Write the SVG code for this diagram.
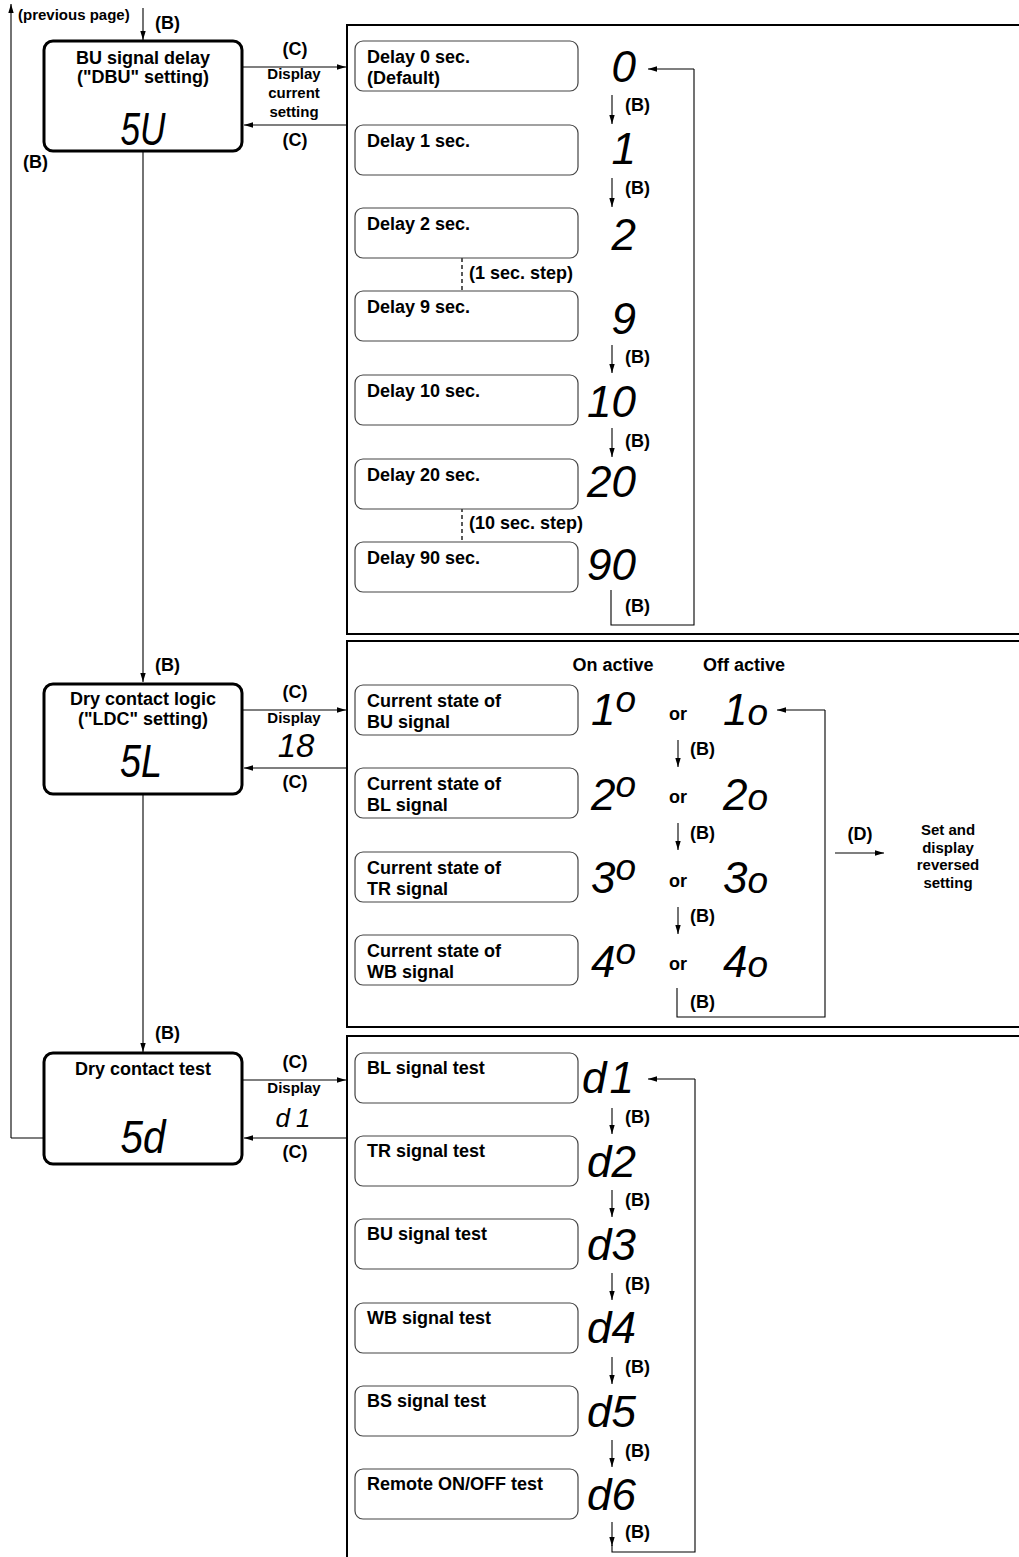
<svg xmlns="http://www.w3.org/2000/svg" width="1019" height="1557" viewBox="0 0 1019 1557">
<defs>
<style>
.t{font-family:"Liberation Sans",Arial,sans-serif;font-weight:bold;font-size:18px;fill:#000}
.s{font-family:"Liberation Sans",Arial,sans-serif;font-weight:bold;font-size:15px;fill:#000}
.c{text-anchor:middle}
.seg{font-family:"Liberation Sans",Arial,sans-serif;font-style:italic;font-size:44px;fill:#000}
.main{fill:#fff;stroke:#000;stroke-width:3}
.sub{fill:#fff;stroke:#444;stroke-width:1.2}
.panel{fill:none;stroke:#000;stroke-width:2}
.ln{fill:none;stroke:#000;stroke-width:1.1}
.ar{fill:none;stroke:#000;stroke-width:1.1;marker-end:url(#ah)}
.dash{fill:none;stroke:#000;stroke-width:1.3;stroke-dasharray:4,3}
</style>
<marker id="ah" markerWidth="10" markerHeight="8" refX="9" refY="4" orient="auto" markerUnits="userSpaceOnUse"><path d="M0,1.3 L9,4 L0,6.7 Z" fill="#000"/></marker>
</defs>
<rect width="1019" height="1557" fill="#fff"/>

<!-- panels -->
<g id="panel1"><rect class="panel" x="347" y="25" width="700" height="609"/></g>
<g id="panel2"><rect class="panel" x="347" y="641" width="700" height="386"/></g>
<g id="panel3"><rect class="panel" x="347" y="1036" width="700" height="560"/></g>

<!-- connectors -->
<g id="connectors">
<path class="ar" d="M143,8 V40"/>
<path class="ln" d="M44,1138 H11"/>
<path class="ar" d="M11,1138 V4"/>
<path class="ar" d="M143,151 V682"/>
<path class="ar" d="M143,795 V1052"/>
<path class="ar" d="M243,67 H346"/>
<path class="ar" d="M347,125 H244"/>
<path class="ar" d="M243,710 H346"/>
<path class="ar" d="M347,768 H244"/>
<path class="ar" d="M243,1080 H346"/>
<path class="ar" d="M347,1138 H244"/>
<!-- panel 1 -->
<path class="ar" d="M612,95 V124"/>
<path class="ar" d="M612,178 V207"/>
<path class="ar" d="M612,345 V373"/>
<path class="ar" d="M612,428 V457"/>
<path class="ln" d="M611,590 V625 H694 V69"/>
<path class="ar" d="M694,69 H648"/>
<path class="dash" d="M462,258 V291"/>
<path class="dash" d="M462,508 V542"/>
<!-- panel 2 -->
<path class="ar" d="M678,740 V767"/>
<path class="ar" d="M678,823 V850"/>
<path class="ar" d="M678,907 V934"/>
<path class="ln" d="M677,988 V1017 H825 V710"/>
<path class="ar" d="M825,710 H777"/>
<path class="ar" d="M835,853 H884"/>
<!-- panel 3 -->
<path class="ar" d="M612,1108 V1134"/>
<path class="ar" d="M612,1190 V1217"/>
<path class="ar" d="M612,1273 V1300"/>
<path class="ar" d="M612,1357 V1384"/>
<path class="ar" d="M612,1440 V1467"/>
<path class="ar" d="M612,1522 V1546"/>
<path class="ln" d="M612,1545 V1552 H695 V1079"/>
<path class="ar" d="M695,1079 H648"/>
</g>

<!-- connector labels -->
<g id="labels">
<text class="s" x="18" y="20">(previous page)</text>
<text class="t" x="155" y="29">(B)</text>
<text class="t" x="23" y="168">(B)</text>
<text class="t c" x="295" y="55">(C)</text>
<text class="s c" x="294" y="79">Display</text>
<text class="s c" x="294" y="98">current</text>
<text class="s c" x="294" y="117">setting</text>
<text class="t c" x="295" y="146">(C)</text>
<text class="t" x="155" y="671">(B)</text>
<text class="t c" x="295" y="698">(C)</text>
<text class="s c" x="294" y="723">Display</text>
<text class="seg c" x="296" y="757" style="font-size:33px">18</text>
<text class="t c" x="295" y="788">(C)</text>
<text class="t" x="155" y="1039">(B)</text>
<text class="t c" x="295" y="1068">(C)</text>
<text class="s c" x="294" y="1093">Display</text>
<text class="seg c" x="296" y="1127" style="font-size:26px;letter-spacing:6px">d1</text>
<text class="t c" x="295" y="1158">(C)</text>
<!-- panel 1 -->
<text class="t" x="625" y="111">(B)</text>
<text class="t" x="625" y="194">(B)</text>
<text class="t" x="625" y="363">(B)</text>
<text class="t" x="625" y="447">(B)</text>
<text class="t" x="625" y="612">(B)</text>
<text class="t" x="469" y="279">(1 sec. step)</text>
<text class="t" x="469" y="529">(10 sec. step)</text>
<!-- panel 2 -->
<text class="t c" x="613" y="671">On active</text>
<text class="t c" x="744" y="671">Off active</text>
<text class="t" x="690" y="755">(B)</text>
<text class="t" x="690" y="839">(B)</text>
<text class="t" x="690" y="922">(B)</text>
<text class="t" x="690" y="1008">(B)</text>
<text class="t c" x="860" y="840">(D)</text>
<text class="s c" x="948" y="835">Set and</text>
<text class="s c" x="948" y="853">display</text>
<text class="s c" x="948" y="870">reversed</text>
<text class="s c" x="948" y="888">setting</text>
<!-- panel 3 -->
<text class="t" x="625" y="1123">(B)</text>
<text class="t" x="625" y="1206">(B)</text>
<text class="t" x="625" y="1290">(B)</text>
<text class="t" x="625" y="1373">(B)</text>
<text class="t" x="625" y="1457">(B)</text>
<text class="t" x="625" y="1538">(B)</text>
</g>

<!-- main nodes -->
<g id="node-bu-delay">
<rect class="main" x="44" y="41" width="198" height="110" rx="9"/>
<text class="t c" x="143" y="64">BU signal delay</text>
<text class="t c" x="143" y="83">("DBU" setting)</text>
<text class="seg c" x="143" y="145" style="font-size:46px" textLength="45" lengthAdjust="spacingAndGlyphs">5U</text>
</g>
<g id="node-dry-logic">
<rect class="main" x="44" y="684" width="198" height="110" rx="9"/>
<text class="t c" x="143" y="705">Dry contact logic</text>
<text class="t c" x="143" y="725">("LDC" setting)</text>
<text class="seg c" x="141" y="777" style="font-size:46px" textLength="42" lengthAdjust="spacingAndGlyphs">5L</text>
</g>
<g id="node-dry-test">
<rect class="main" x="44" y="1053" width="198" height="111" rx="9"/>
<text class="t c" x="143" y="1075">Dry contact test</text>
<text class="seg c" x="143" y="1153" style="font-size:46px" textLength="45" lengthAdjust="spacingAndGlyphs">5d</text>
</g>

<!-- panel 1 nodes -->
<g id="node-d0"><rect class="sub" x="355" y="41" width="223" height="50" rx="8"/><text class="t" x="367" y="63">Delay 0 sec.</text><text class="t" x="367" y="84">(Default)</text><text class="seg" x="636" y="82" text-anchor="end">0</text></g>
<g id="node-d1"><rect class="sub" x="355" y="125" width="223" height="50" rx="8"/><text class="t" x="367" y="147">Delay 1 sec.</text><text class="seg" x="636" y="164" text-anchor="end">1</text></g>
<g id="node-d2"><rect class="sub" x="355" y="208" width="223" height="50" rx="8"/><text class="t" x="367" y="230">Delay 2 sec.</text><text class="seg" x="636" y="250" text-anchor="end">2</text></g>
<g id="node-d9"><rect class="sub" x="355" y="291" width="223" height="50" rx="8"/><text class="t" x="367" y="313">Delay 9 sec.</text><text class="seg" x="636" y="334" text-anchor="end">9</text></g>
<g id="node-d10"><rect class="sub" x="355" y="375" width="223" height="50" rx="8"/><text class="t" x="367" y="397">Delay 10 sec.</text><text class="seg" x="636" y="417" text-anchor="end">10</text></g>
<g id="node-d20"><rect class="sub" x="355" y="459" width="223" height="50" rx="8"/><text class="t" x="367" y="481">Delay 20 sec.</text><text class="seg" x="636" y="497" text-anchor="end">20</text></g>
<g id="node-d90"><rect class="sub" x="355" y="542" width="223" height="50" rx="8"/><text class="t" x="367" y="564">Delay 90 sec.</text><text class="seg" x="636" y="580" text-anchor="end">90</text></g>

<!-- panel 2 nodes -->
<g id="node-bu-state"><rect class="sub" x="355" y="685" width="223" height="50" rx="8"/><text class="t" x="367" y="707">Current state of</text><text class="t" x="367" y="728">BU signal</text>
<text class="seg" x="636" y="725" text-anchor="end">1<tspan dy="-13" style="font-size:37px">o</tspan></text>
<text class="t" x="669" y="720">or</text>
<text class="seg" x="768" y="725" text-anchor="end">1<tspan style="font-size:37px">o</tspan></text></g>
<g id="node-bl-state"><rect class="sub" x="355" y="768" width="223" height="50" rx="8"/><text class="t" x="367" y="790">Current state of</text><text class="t" x="367" y="811">BL signal</text>
<text class="seg" x="636" y="810" text-anchor="end">2<tspan dy="-13" style="font-size:37px">o</tspan></text>
<text class="t" x="669" y="803">or</text>
<text class="seg" x="768" y="810" text-anchor="end">2<tspan style="font-size:37px">o</tspan></text></g>
<g id="node-tr-state"><rect class="sub" x="355" y="852" width="223" height="50" rx="8"/><text class="t" x="367" y="874">Current state of</text><text class="t" x="367" y="895">TR signal</text>
<text class="seg" x="636" y="893" text-anchor="end">3<tspan dy="-13" style="font-size:37px">o</tspan></text>
<text class="t" x="669" y="887">or</text>
<text class="seg" x="768" y="893" text-anchor="end">3<tspan style="font-size:37px">o</tspan></text></g>
<g id="node-wb-state"><rect class="sub" x="355" y="935" width="223" height="50" rx="8"/><text class="t" x="367" y="957">Current state of</text><text class="t" x="367" y="978">WB signal</text>
<text class="seg" x="636" y="977" text-anchor="end">4<tspan dy="-13" style="font-size:37px">o</tspan></text>
<text class="t" x="669" y="970">or</text>
<text class="seg" x="768" y="977" text-anchor="end">4<tspan style="font-size:37px">o</tspan></text></g>

<!-- panel 3 nodes -->
<g id="node-bl-test"><rect class="sub" x="355" y="1053" width="223" height="50" rx="8"/><text class="t" x="367" y="1074">BL signal test</text><text class="seg" x="637" y="1093" text-anchor="end" style="letter-spacing:3px">d1</text></g>
<g id="node-tr-test"><rect class="sub" x="355" y="1136" width="223" height="50" rx="8"/><text class="t" x="367" y="1157">TR signal test</text><text class="seg" x="636" y="1177" text-anchor="end">d2</text></g>
<g id="node-bu-test"><rect class="sub" x="355" y="1219" width="223" height="50" rx="8"/><text class="t" x="367" y="1240">BU signal test</text><text class="seg" x="636" y="1260" text-anchor="end">d3</text></g>
<g id="node-wb-test"><rect class="sub" x="355" y="1303" width="223" height="50" rx="8"/><text class="t" x="367" y="1324">WB signal test</text><text class="seg" x="636" y="1343" text-anchor="end">d4</text></g>
<g id="node-bs-test"><rect class="sub" x="355" y="1386" width="223" height="50" rx="8"/><text class="t" x="367" y="1407">BS signal test</text><text class="seg" x="636" y="1427" text-anchor="end">d5</text></g>
<g id="node-remote-test"><rect class="sub" x="355" y="1469" width="223" height="50" rx="8"/><text class="t" x="367" y="1490">Remote ON/OFF test</text><text class="seg" x="636" y="1510" text-anchor="end">d6</text></g>
</svg>
